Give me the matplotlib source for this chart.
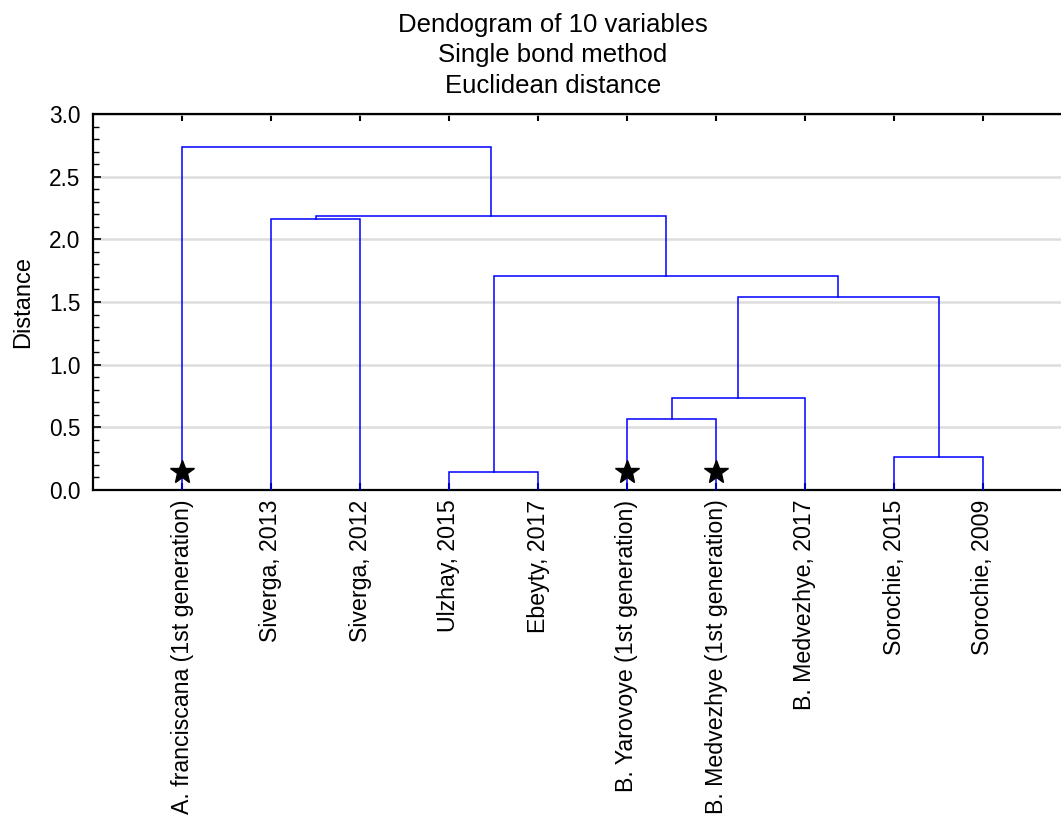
import matplotlib.pyplot as plt
from matplotlib.ticker import MultipleLocator

plt.rcParams['font.family'] = ['Liberation Sans', 'DejaVu Sans']
plt.rcParams['font.size'] = 16

labels = ['A. franciscana (1st generation)', 'Siverga, 2013', 'Siverga, 2012',
          'Ulzhay, 2015', 'Ebeyty, 2017', 'B. Yarovoye (1st generation)',
          'B. Medvezhye (1st generation)', 'B. Medvezhye, 2017',
          'Sorochie, 2015', 'Sorochie, 2009']
# leaves are 0..9, each merge makes a new cluster numbered 10, 11, ...
left_child = [3, 8, 5, 12, 13, 10, 1, 16, 0]
right_child = [4, 9, 6, 7, 11, 14, 2, 15, 17]
merge_dist = [0.146, 0.265, 0.569, 0.733, 1.540, 1.704, 2.162, 2.183, 2.737]
marked = [0, 5, 6]
mark_level = 0.14

W, H = 1061, 819
fig = plt.figure(figsize=(W / 100, H / 100), dpi=100)
ax = fig.add_axes([93 / W, (H - 490) / H, 1 - 93 / W, (490 - 114) / H])

xpos = [i + 1 for i in range(len(labels))]
ypos = [0.0] * len(labels)
for a, b, d in zip(left_child, right_child, merge_dist):
    ax.plot([xpos[a], xpos[a], xpos[b], xpos[b]], [ypos[a], d, d, ypos[b]],
            color='#0000ff', lw=1.1, zorder=3, solid_joinstyle='miter')
    xpos.append((xpos[a] + xpos[b]) / 2)
    ypos.append(d)

ax.plot([xpos[i] for i in marked], [mark_level] * len(marked), '*',
        color='black', ms=18, zorder=4)

ax.set_xlim(0, (W - 93) / 89)
ax.set_ylim(0, 3.0)
ax.set_xticks(range(1, len(labels) + 1))
ax.set_xticklabels(labels, rotation=90, fontsize=16.7)
ax.yaxis.set_major_locator(MultipleLocator(0.5))
ax.yaxis.set_minor_locator(MultipleLocator(0.1))
ax.yaxis.set_major_formatter(lambda v, p: f'{v:.1f}')
ax.tick_params(axis='x', direction='in', length=5, width=1.5, top=True, pad=7)
ax.tick_params(axis='y', which='major', direction='in', length=6, width=1.2,
               pad=9, labelsize=16.3)
ax.tick_params(axis='y', which='minor', direction='in', length=4, width=1.0)
ax.grid(axis='y', color='#dddddd', lw=1.8, zorder=0)
ax.spines['right'].set_visible(False)
for s in ['left', 'top', 'bottom']:
    ax.spines[s].set_linewidth(1.6)

fig.text(23 / W, 1 - 302 / H, 'Distance', rotation=90, ha='center',
         va='center', fontsize=17)
fig.text(553 / W, 1 - 13 / H,
         'Dendogram of 10 variables\nSingle bond method\nEuclidean distance',
         ha='center', va='top', fontsize=18.5, linespacing=1.34)

plt.savefig('out.png')
